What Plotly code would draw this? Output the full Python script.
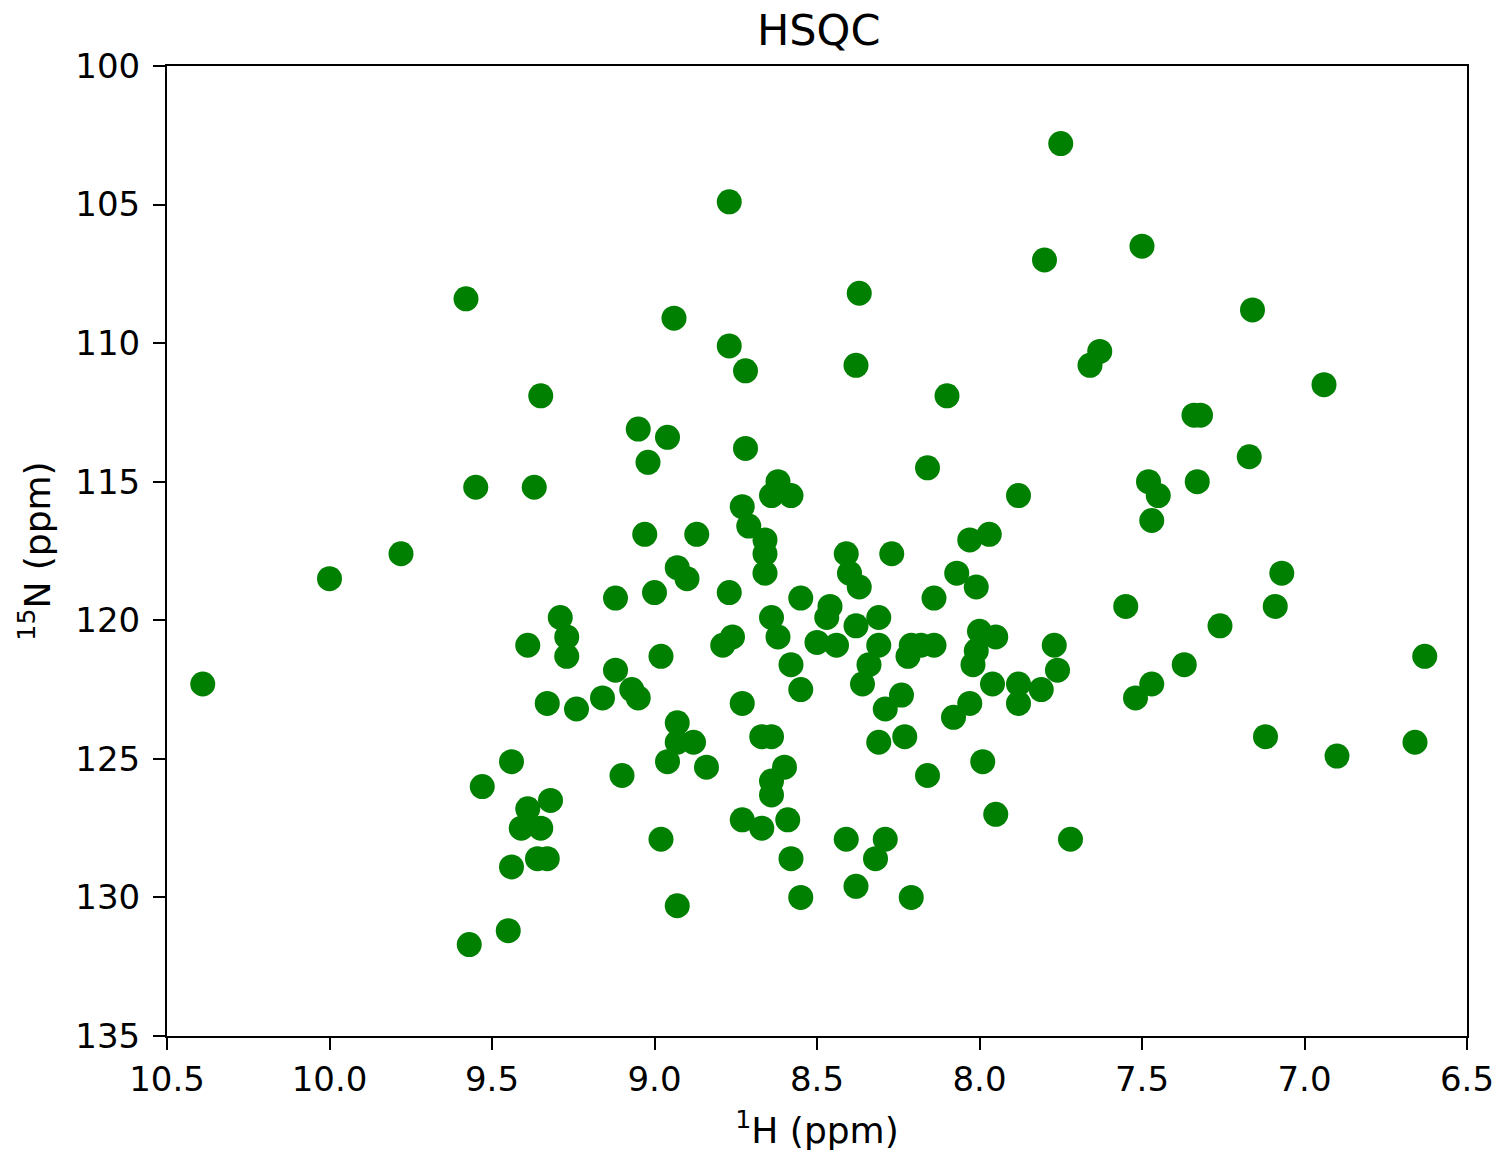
import plotly.graph_objects as go

# 1H chemical shifts (ppm)
h_ppm = [
    10.39, 10.00, 9.78, 9.58, 9.55, 9.35, 9.37, 9.29, 9.27, 9.27,
    9.39, 9.33, 9.24, 9.16, 9.12, 9.12, 9.07, 9.05, 9.05, 9.02,
    8.96, 9.03, 9.00, 8.98, 8.94, 8.93, 8.90, 8.87, 8.77, 8.77,
    8.72, 8.72, 8.73, 8.71, 8.77, 8.76, 8.79, 8.66, 8.66, 8.66,
    8.62, 8.64, 8.58, 8.64, 8.62, 8.58, 8.55, 8.55, 8.46, 8.47,
    8.50, 8.44, 8.41, 8.40, 8.37, 8.38, 8.34, 8.36, 8.37, 8.38,
    8.27, 8.31, 8.31, 8.29, 8.24, 8.31, 8.23, 8.22, 8.21, 8.18,
    8.14, 8.14, 8.16, 8.10, 8.07, 8.03, 8.01, 7.97, 8.00, 7.95,
    8.01, 8.02, 7.96, 8.03, 8.08, 7.99, 7.95, 7.88, 7.88, 7.88,
    7.81, 7.77, 7.76, 7.72, 7.80, 7.75, 7.66, 7.63, 7.50, 7.55,
    7.52, 7.47, 7.48, 7.45, 7.47, 7.34, 7.32, 7.33, 7.37, 7.26,
    7.17, 7.16, 7.12, 7.09, 7.07, 6.94, 6.90, 6.66, 6.63,
    9.44, 9.53, 9.39, 9.41, 9.35, 9.32, 9.36, 9.33, 9.44, 9.45,
    9.57, 9.10, 8.96, 8.93, 8.93, 8.88, 8.84, 8.98, 8.93, 8.73,
    8.67, 8.64, 8.64, 8.60, 8.64, 8.73, 8.67, 8.59, 8.58, 8.55,
    8.41, 8.29, 8.32, 8.38, 8.21, 8.16,
]

# 15N chemical shifts (ppm)
n_ppm = [
    122.3, 118.5, 117.6, 108.4, 115.2, 111.9, 115.2, 119.9, 120.6, 121.3,
    120.9, 123.0, 123.2, 122.8, 121.8, 119.2, 122.5, 122.8, 113.1, 114.3,
    113.4, 116.9, 119.0, 121.3, 109.1, 118.1, 118.5, 116.9, 104.9, 110.1,
    111.0, 113.8, 115.9, 116.6, 119.0, 120.6, 120.9, 117.1, 117.6, 118.3,
    115.0, 115.5, 115.5, 119.9, 120.6, 121.6, 119.2, 122.5, 119.5, 119.9,
    120.8, 120.9, 117.6, 118.3, 118.8, 120.2, 121.6, 122.3, 108.2, 110.8,
    117.6, 119.9, 120.9, 123.2, 122.7, 124.4, 124.2, 121.3, 120.9, 120.9,
    120.9, 119.2, 114.5, 111.9, 118.3, 117.1, 118.8, 116.9, 120.4, 120.6,
    121.1, 121.6, 122.3, 123.0, 123.5, 125.1, 127.0, 115.5, 122.3, 123.0,
    122.5, 120.9, 121.8, 127.9, 107.0, 102.8, 110.8, 110.3, 106.5, 119.5,
    122.8, 122.3, 115.0, 115.5, 116.4, 112.6, 112.6, 115.0, 121.6, 120.2,
    114.1, 108.8, 124.2, 119.5, 118.3, 111.5, 124.9, 124.4, 121.3,
    125.1, 126.0, 126.8, 127.5, 127.5, 126.5, 128.6, 128.6, 128.9, 131.2,
    131.7, 125.6, 125.1, 123.7, 124.4, 124.4, 125.3, 127.9, 130.3, 123.0,
    124.2, 124.2, 125.8, 125.3, 126.3, 127.2, 127.5, 127.2, 128.6, 130.0,
    127.9, 127.9, 128.6, 129.6, 130.0, 125.6,
]

x_ticks = [10.5, 10.0, 9.5, 9.0, 8.5, 8.0, 7.5, 7.0, 6.5]
x_tick_labels = ["10.5", "10.0", "9.5", "9.0", "8.5", "8.0", "7.5", "7.0", "6.5"]
y_ticks = [100, 105, 110, 115, 120, 125, 130, 135]
y_tick_labels = ["100", "105", "110", "115", "120", "125", "130", "135"]

FONT = "DejaVu Sans"

fig = go.Figure()
fig.add_trace(go.Scatter(
    x=h_ppm, y=n_ppm, mode="markers",
    marker=dict(size=25, color="#008000", line=dict(width=0)),
    showlegend=False, hoverinfo="skip",
))

fig.update_layout(
    width=1506, height=1156,
    margin=dict(l=167, r=34, t=66, b=119),
    paper_bgcolor="white", plot_bgcolor="white",
    font=dict(family=FONT, size=34, color="black"),
    title=dict(text="HSQC", x=0.5436, xanchor="center", y=0.974, yanchor="middle",
               font=dict(family=FONT, size=43, color="black")),
)

fig.update_xaxes(
    range=[10.5, 6.5], tickmode="array", tickvals=x_ticks, ticktext=x_tick_labels,
    showgrid=False, zeroline=False, showline=True, linecolor="black", linewidth=2,
    mirror=True, ticks="outside", ticklen=12, tickwidth=2, tickcolor="black",
    tickfont=dict(family=FONT, size=34),
    title=dict(text="<sup>1</sup>H (ppm)", font=dict(family=FONT, size=36), standoff=20),
)
fig.update_yaxes(
    range=[135, 100], tickmode="array", tickvals=y_ticks, ticktext=y_tick_labels,
    showgrid=False, zeroline=False, showline=True, linecolor="black", linewidth=2,
    mirror=True, ticks="outside", ticklen=12, tickwidth=2, tickcolor="black",
    tickfont=dict(family=FONT, size=34), ticklabelstandoff=6,
    title=dict(text="<sup>15</sup>N (ppm)", font=dict(family=FONT, size=36), standoff=14),
)

fig.write_html("out.html", config={"displayModeBar": False},
               post_script="document.body.style.margin='0';")
